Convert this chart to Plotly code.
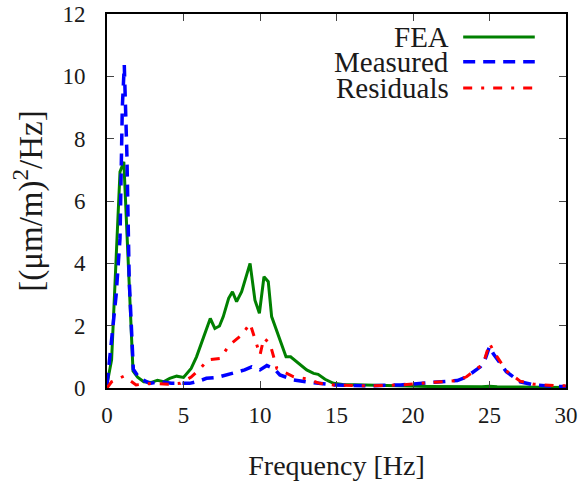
import plotly.graph_objects as go

# FEA model response (power spectral density of strain)
fea_hz = [0.0, 0.3, 0.85, 1.1, 1.7, 2.0, 2.4, 2.9, 3.3, 3.7, 4.1, 4.55, 5.0, 5.5,
          5.85, 6.3, 6.75, 7.05, 7.35, 7.6, 7.95, 8.2, 8.47, 8.8, 9.1, 9.35, 9.67,
          9.96, 10.26, 10.54, 10.76, 11.3, 11.7, 12.0, 12.5, 13.05, 13.5, 13.8,
          14.25, 14.8, 15.4, 17.0, 19.0, 21.0, 23.0, 24.5, 25.0, 25.5, 27.0, 30.0]
fea_psd = [0.12, 0.9, 6.94, 7.26, 0.55, 0.35, 0.2, 0.18, 0.25, 0.2, 0.31, 0.38, 0.34, 0.63,
           1.0, 1.65, 2.23, 1.91, 1.99, 2.29, 2.88, 3.09, 2.77, 3.09, 3.63, 4.0, 2.82,
           2.4, 3.57, 3.41, 2.29, 1.54, 1.0, 1.0, 0.8, 0.58, 0.47, 0.44,
           0.28, 0.15, 0.11, 0.1, 0.07, 0.05, 0.04, 0.04, 0.06, 0.04, 0.03, 0.02]

# Measured response
meas_hz = [0.0, 0.35, 0.6, 0.85, 1.0, 1.13, 1.3, 1.45, 1.72, 2.1, 2.8, 3.5, 4.2, 4.8,
           5.4, 6.0, 6.5, 7.2, 8.3, 9.0, 9.45, 10.0, 10.45, 10.9, 11.3, 12.2, 13.0,
           13.9, 14.8, 17.0, 19.2, 21.3, 22.9, 23.5, 24.4, 24.7, 25.0, 25.25, 26.1,
           27.0, 27.9, 29.2, 30.0]
meas_psd = [0.1, 1.7, 3.0, 4.8, 9.0, 10.36, 7.5, 3.5, 0.6, 0.32, 0.15, 0.2, 0.15, 0.15,
            0.15, 0.22, 0.31, 0.34, 0.47, 0.58, 0.68, 0.58, 0.72, 0.63, 0.42, 0.26, 0.2,
            0.15, 0.1, 0.07, 0.1, 0.18, 0.24, 0.36, 0.68, 0.9, 1.33, 1.1, 0.52,
            0.2, 0.1, 0.05, 0.05]

# Residuals between model and measurement
res_hz = [0.0, 0.3, 1.1, 1.9, 3.0, 4.0, 4.8, 5.5, 6.1, 6.6, 7.4, 8.0, 8.8, 9.35, 10.0,
          10.25, 10.65, 11.1, 12.2, 13.0, 13.9, 14.8, 17.0, 19.2, 21.3, 22.9, 23.5,
          24.4, 24.7, 25.0, 25.3, 26.1, 27.0, 27.9, 29.2, 30.0]
res_psd = [0.0, 0.2, 0.38, 0.1, 0.15, 0.12, 0.15, 0.35, 0.63, 0.9, 0.95, 1.38, 1.7, 2.07, 1.06,
           1.6, 1.43, 0.63, 0.36, 0.3, 0.15, 0.1, 0.07, 0.1, 0.18, 0.24, 0.36,
           0.7, 0.95, 1.43, 1.15, 0.55, 0.22, 0.12, 0.08, 0.07]

series_names = ["FEA", "Measured", "Residuals"]
series_colors = ["#008000", "#0000ff", "#ff0000"]
series_dash = ["solid", "12px,8px", "9px,9px,3px,9px"]
series_width = [3, 3.5, 3]

x_ticks = [0, 5, 10, 15, 20, 25, 30]
y_ticks = [0, 2, 4, 6, 8, 10, 12]

FONT = "Liberation Serif"
TEXT = "#1a1a1a"

fig = go.Figure()
for name, xs, ys, col, dash, w in zip(series_names,
                                      [fea_hz, meas_hz, res_hz],
                                      [fea_psd, meas_psd, res_psd],
                                      series_colors, series_dash, series_width):
    fig.add_trace(go.Scatter(x=xs, y=ys, mode="lines", name=name,
                             line=dict(color=col, dash=dash, width=w),
                             showlegend=False))

# Legend drawn gnuplot-style: right-aligned labels with line samples to the right
legend_y = [0.9385, 0.872, 0.802]
for name, col, dash, w, ly in zip(series_names, series_colors, series_dash,
                                  series_width, legend_y):
    fig.add_annotation(x=0.747, y=ly, xref="paper", yref="paper", text=name,
                       showarrow=False, xanchor="right", yanchor="middle",
                       borderpad=0, height=24, valign="middle",
                       font=dict(family=FONT, size=29, color=TEXT))
    fig.add_shape(type="line", xref="paper", yref="paper",
                  x0=0.776, x1=0.932, y0=ly, y1=ly,
                  line=dict(color=col, dash=dash, width=w))

axis_common = dict(
    showgrid=False, zeroline=False, automargin=False,
    showline=True, linecolor="black", linewidth=2, mirror="allticks",
    ticks="inside", ticklen=7, tickcolor="#444444", tickwidth=1,
    tickfont=dict(family=FONT, size=23, color=TEXT),
)

fig.update_xaxes(range=[0, 30], tickvals=x_ticks, ticklabelstandoff=5,
                 title=dict(text="Frequency [Hz]", standoff=29,
                            font=dict(family=FONT, size=28, color=TEXT)),
                 **axis_common)
fig.update_yaxes(range=[0, 12], tickvals=y_ticks, ticklabelstandoff=15,
                 title=dict(text="[(μm/m)<sup>2</sup>/Hz]", standoff=10,
                            font=dict(family=FONT, size=33, color=TEXT)),
                 **axis_common)

fig.update_layout(
    width=579, height=488,
    margin=dict(l=107, r=13, t=14, b=100),
    paper_bgcolor="white", plot_bgcolor="white",
    font=dict(family=FONT),
)

fig.write_html("out.html")
